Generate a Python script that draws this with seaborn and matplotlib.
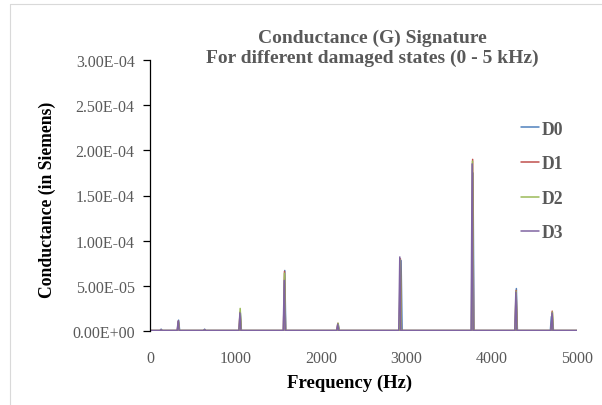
import matplotlib
matplotlib.use("Agg")
import matplotlib.pyplot as plt
from matplotlib.lines import Line2D
import seaborn as sns
import pandas as pd

# ---- data ----
series = ["D0", "D1", "D2", "D3"]
colors = ["#4F81BD", "#C0504D", "#9BBB59", "#8064A2"]

peak_freq_D0 = [130, 335, 640, 1058, 1578, 2203, 2940, 3782, 4290, 4700]
peak_freq_D1 = [130, 332, 640, 1055, 1575, 2200, 2932, 3778, 4287, 4710]
peak_freq_D2 = [130, 333, 640, 1056, 1575, 2202, 2930, 3776, 4286, 4712]
peak_freq_D3 = [130, 330, 640, 1053, 1572, 2198, 2925, 3772, 4284, 4708]

peak_G_D0 = [2.0e-6, 1.2e-5, 2.0e-6, 2.0e-5, 6.7e-5, 8.0e-6, 7.8e-5, 1.75e-4, 4.7e-5, 1.6e-5]
peak_G_D1 = [1.5e-6, 1.1e-5, 1.5e-6, 2.1e-5, 6.6e-5, 8.5e-6, 8.0e-5, 1.90e-4, 4.5e-5, 2.2e-5]
peak_G_D2 = [1.5e-6, 1.0e-5, 1.5e-6, 2.5e-5, 6.4e-5, 8.6e-6, 7.9e-5, 1.88e-4, 4.4e-5, 2.1e-5]
peak_G_D3 = [1.5e-6, 1.1e-5, 1.5e-6, 2.0e-5, 5.6e-5, 7.5e-6, 8.2e-5, 1.85e-4, 4.3e-5, 2.0e-5]

baseline_G = 5e-7
peak_halfwidth = 12
freq_range = [0, 5000]

y_ticks = [0, 5e-5, 1e-4, 1.5e-4, 2e-4, 2.5e-4, 3e-4]
y_tick_labels = ["0.00E+00", "5.00E-05", "1.00E-04", "1.50E-04", "2.00E-04", "2.50E-04", "3.00E-04"]
x_ticks = [0, 1000, 2000, 3000, 4000, 5000]

peaks_f = {"D0": peak_freq_D0, "D1": peak_freq_D1, "D2": peak_freq_D2, "D3": peak_freq_D3}
peaks_g = {"D0": peak_G_D0, "D1": peak_G_D1, "D2": peak_G_D2, "D3": peak_G_D3}

rows = []
for s in series:
    rows.append((s, freq_range[0], baseline_G))
    for f, g in zip(peaks_f[s], peaks_g[s]):
        rows.append((s, f - peak_halfwidth, baseline_G))
        rows.append((s, f, g))
        rows.append((s, f + peak_halfwidth, baseline_G))
    rows.append((s, freq_range[1], baseline_G))
df = pd.DataFrame(rows, columns=["State", "Frequency", "G"])

# ---- styling ----
sns.set_style("white")
plt.rcParams["font.family"] = ["Liberation Serif", "DejaVu Serif"]

fig = plt.figure(figsize=(6.02, 4.06), dpi=100)
ax = fig.add_axes([150 / 602, 1 - 332 / 406, 427 / 602, 271 / 406])

sns.lineplot(data=df, x="Frequency", y="G", hue="State", hue_order=series,
             palette=colors, estimator=None, linewidth=1.1, ax=ax, legend=False)

ax.set_xlim(0, 5000)
ax.set_ylim(0, 3e-4)
ax.set_xticks(x_ticks)
ax.set_xticklabels([str(v) for v in x_ticks])
ax.set_yticks(y_ticks)
ax.set_yticklabels(y_tick_labels)

gray = "#595959"
ax.tick_params(axis="y", direction="out", length=5, width=0.9, color="black",
               labelsize=11.5, labelcolor=gray, pad=6, left=True)
ax.tick_params(axis="x", length=0, labelsize=11.5, labelcolor=gray, pad=14)

for sp in ["top", "right", "bottom"]:
    ax.spines[sp].set_visible(False)
ax.spines["left"].set_color("black")
ax.spines["left"].set_linewidth(0.9)

ax.set_xlabel("Frequency (Hz)", fontsize=13.5, fontweight="bold", color="black")
ax.set_ylabel("Conductance (in Siemens)", fontsize=12.7, fontweight="bold", color="black")
ax.xaxis.label.set_va("center")
ax.yaxis.label.set_va("center")
ax.xaxis.set_label_coords((350 - 150) / 427, (332 - 383) / 271)
ax.yaxis.set_label_coords((47 - 150) / 427, (332 - 200) / 271)
ax.grid(False)

fig.text(372 / 602, 1 - 48 / 406,
         "Conductance (G) Signature\nFor different damaged states (0 - 5 kHz)",
         ha="center", va="center", fontsize=14, fontweight="bold", color=gray,
         linespacing=1.2)

handles = [Line2D([0], [0], color=c, lw=1.1) for c in colors]
leg = fig.legend(handles, series, loc="center left",
                 bbox_to_anchor=(521 / 602, 1 - 182 / 406),
                 frameon=False, handlelength=1.0, handletextpad=0.15,
                 labelspacing=1.0, borderpad=0, borderaxespad=0,
                 prop={"family": ["Liberation Serif"], "weight": "bold", "size": 12.7})
for t in leg.get_texts():
    t.set_color(gray)

# chart-area border
fig.add_artist(Line2D([10 / 602, 10 / 602], [0, 1 - 5 / 406], transform=fig.transFigure,
                      color="#D9D9D9", lw=0.8))
fig.add_artist(Line2D([10 / 602, 1], [1 - 5 / 406, 1 - 5 / 406], transform=fig.transFigure,
                      color="#D9D9D9", lw=0.8))

fig.savefig("out.png", dpi=100)
